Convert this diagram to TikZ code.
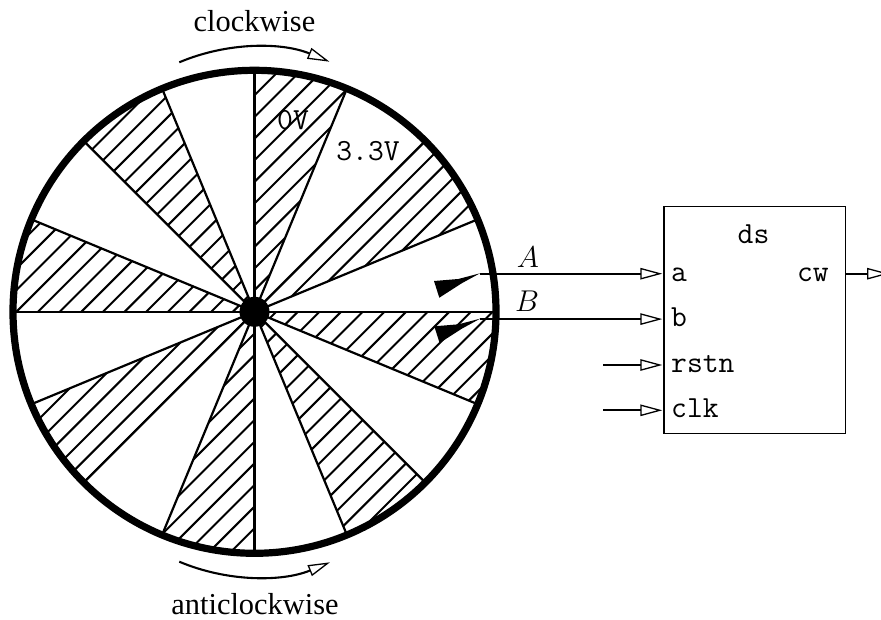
\documentclass[tikz,border=0pt]{standalone}
\usepackage{fontspec}
\setmainfont{Liberation Serif}
\usetikzlibrary{arrows.meta,calc}
\tikzset{
  spoke/.style={line width=2.2pt},
  hatchline/.style={line width=2pt},
  rim/.style={line width=7.2pt},
  tipopen/.style={-{Triangle[open,length=22pt,width=11.5pt,line width=1.3pt]}},
  sig/.style={line width=2.2pt,tipopen,shorten >=1pt},
  turn/.style={line width=2.1pt,tipopen},
  tt/.style={font=\fontsize{30.7}{36}\selectfont\ttfamily,inner sep=0pt,anchor=base},
  rm/.style={font=\fontsize{30.4}{36}\selectfont,inner sep=0pt,anchor=base},
  mathlabel/.style={font=\fontsize{20.74}{24}\selectfont,scale=1.45,inner sep=0pt,anchor=base},
  blockbox/.style={draw,line width=1.2pt,minimum width=181.5pt,minimum height=227pt,inner sep=0pt,anchor=north west},
}
\newcommand{\sector}[2]{%
  \begin{scope}
    \clip (ctr) circle (241pt);
    \clip (ctr) -- ($(ctr)+(#1:400pt)$) -- ($(ctr)+({(#1+#2)/2}:500pt)$) -- ($(ctr)+(#2:400pt)$) -- cycle;
    \foreach \k in {-16,...,16}
      \draw[hatchline] ($(ctr)+(-300pt,-300pt)+(0pt,\k*21.65pt)$) -- ($(ctr)+(300pt,300pt)+(0pt,\k*21.65pt)$);
  \end{scope}}
\begin{document}
\begin{tikzpicture}[x=1pt,y=1pt]
\useasboundingbox (0,0) rectangle (881,619);
\coordinate (ctr) at (254.5,307.2);
% hatched sectors
\sector{67.5}{90}
\sector{22.5}{45}
\sector{-22.5}{0}
\sector{-67.5}{-45}
\sector{-112.5}{-90}
\sector{-157.5}{-135}
\sector{157.5}{180}
\sector{112.5}{135}
% spokes
\foreach \a in {0,22.5,45,67.5,90,112.5,135,157.5,180,-22.5,-45,-67.5,-90,-112.5,-135,-157.5}
  \draw[spoke] (ctr) -- ($(ctr)+(\a:241pt)$);
\draw[rim] (ctr) circle (241.5pt);
\node[circle,fill=black,inner sep=0pt,minimum size=30pt] (hub) at (ctr) {};
% rotation arrows
\coordinate (cwS) at (179.3,556.7);
\coordinate (cwE) at (329.5,557.3);
\draw[turn] (cwS) .. controls (227.3,577) and (281.5,577) .. (cwE);
\coordinate (acS) at (179.3,57.3);
\coordinate (acE) at (330,56.7);
\draw[turn] (acS) .. controls (227.3,37) and (282,37) .. (acE);
\node[rm] (cwl) at (254.5,587.3) {clockwise};
\node[rm] (acl) at (255,5) {anticlockwise};
% voltage labels
\node[tt] (zv) at (293,489) {0V};
\node[tt] (tv) at (368,458) {3.3V};
% block
\node[blockbox] (box) at (663.3,413) {};
\node[tt] (ds) at (753.5,375) {ds};
\node[tt,anchor=base west] (pa) at (671,337.3) {a};
\node[tt,anchor=base west] (pb) at (671,292.3) {b};
\node[tt,anchor=base west] (pr) at (671,246.3) {rstn};
\node[tt,anchor=base west] (pc) at (671,201.3) {clk};
\node[tt,anchor=base east] (pw) at (829,337.3) {cw};
% sensors
\fill (434,338) -- (458.3,340) -- (480,345.7) -- (461.7,335.7) -- (439.3,321.3) -- cycle;
\fill (434.3,292.7) -- (458.6,294.7) -- (480.3,300.4) -- (462,290.4) -- (439.6,276) -- cycle;
\coordinate (sa) at (480,345.3);
\coordinate (sb) at (480.3,299.9);
\coordinate (ia) at (box.west |- 0,345.3);
\coordinate (ib) at (box.west |- 0,299.9);
\coordinate (ir) at (box.west |- 0,254);
\coordinate (ic) at (box.west |- 0,208.7);
\coordinate (sr) at (603,254);
\coordinate (sc) at (603,208.7);
\coordinate (ow) at (box.east |- 0,345.3);
\coordinate (ew) at (889,345.3);
\draw[sig] (sa) -- (ia);
\draw[sig] (sb) -- (ib);
\draw[sig] (sr) -- (ir);
\draw[sig] (sc) -- (ic);
\draw[sig,shorten >=0pt] (ow) -- (ew);
\node[mathlabel] (la) at (528,351.7) {$A$};
\node[mathlabel] (lb) at (527,307.3) {$B$};
\end{tikzpicture}
\end{document}
